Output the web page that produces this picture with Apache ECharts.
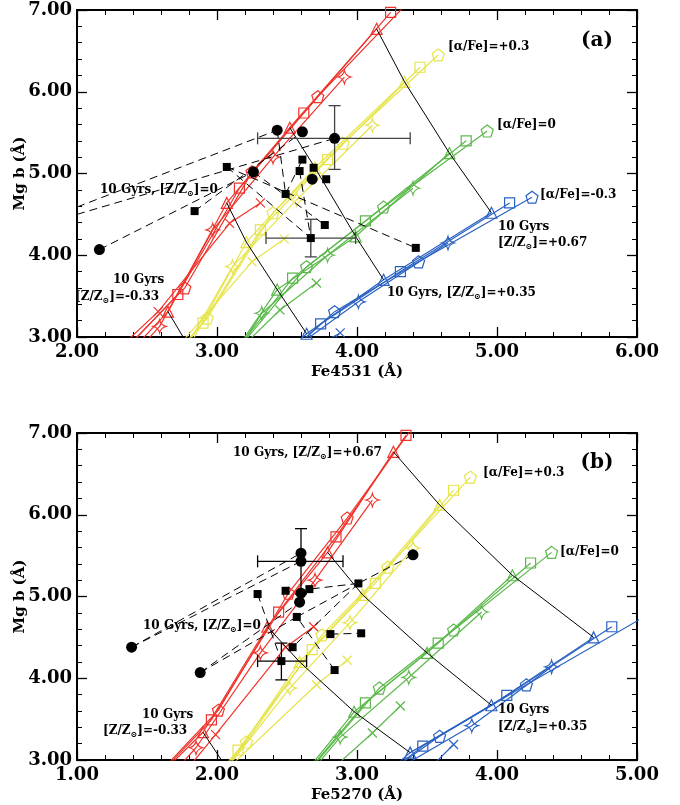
<!DOCTYPE html>
<html><head><meta charset="utf-8">
<script src="https://cdn.jsdelivr.net/npm/echarts@6/dist/echarts.min.js"></script>
<style>html,body{margin:0;padding:0;background:#fff}#c{width:680px;height:805px}</style>
</head><body><div id="c"></div>
<script>
// ---------- axes ----------
const xRangeA = [2, 6];
const xRangeB = [1, 5];
const yRange = [3, 7];

// ---------- model tracks (one track per age; points at increasing [Z/Z⊙]) ----------
// order of tracks in each colour: [triangle (10 Gyr), pentagon, square, star, cross]
// Panel (a): Fe4531 vs Mg b
const aRed = [
  [[2.15,2.40],[2.65,3.31],[3.07,4.64],[3.52,5.56],[4.14,6.77]],
  [[2.20,2.60],[2.77,3.60],[3.25,5.02],[3.72,5.94],[4.38,7.12]],
  [[2.18,2.55],[2.72,3.52],[3.16,4.82],[3.62,5.74],[4.24,6.97]],
  [[2.15,2.30],[2.59,3.13],[2.97,4.31],[3.40,5.20],[3.91,6.18]],
  [[2.20,2.70],[2.58,3.31],[3.09,4.39],[3.31,4.64]]
];
const aYellow = [
  [[2.80,2.88],[3.21,4.16],[3.70,5.07],[4.34,6.12]],
  [[2.45,2.30],[2.93,3.23],[3.40,4.52],[3.90,5.37],[4.58,6.45]],
  [[2.42,2.25],[2.90,3.17],[3.31,4.31],[3.79,5.17],[4.45,6.30]],
  [[2.72,2.70],[3.11,3.86],[3.57,4.68],[4.11,5.59]],
  [[2.72,2.88],[3.25,3.92],[3.48,4.20]]
];
const aGreen = [
  [[3.00,2.50],[3.43,3.58],[3.99,4.23],[4.66,5.25]],
  [[3.10,2.75],[3.64,3.86],[4.19,4.59],[4.93,5.52]],
  [[3.05,2.65],[3.54,3.72],[4.06,4.42],[4.78,5.40]],
  [[2.95,2.30],[3.32,3.29],[3.79,4.00],[4.40,4.82]],
  [[2.95,2.50],[3.45,3.33],[3.71,3.66]]
];
const aBlue = [
  [[3.25,2.40],[3.64,3.04],[4.19,3.70],[4.96,4.52]],
  [[3.45,2.70],[3.84,3.31],[4.44,3.92],[5.25,4.71]],
  [[3.35,2.55],[3.74,3.16],[4.31,3.80],[5.09,4.64]],
  [[3.20,2.30],[3.50,2.80],[4.01,3.43],[4.65,4.15]],
  [[3.30,2.40],[3.62,2.80],[3.88,3.05]]
];
// 10 Gyr iso-metallicity lines (a)
const aIsoP067 = [[4.14,6.77],[4.34,6.12],[4.66,5.25],[4.96,4.52]];
const aIsoP035 = [[3.52,5.56],[3.70,5.07],[3.99,4.23],[4.19,3.70]];
const aIsoZero = [[3.07,4.64],[3.21,4.16],[3.43,3.58],[3.64,3.04]];
const aIsoM033 = [[2.65,3.31],[2.80,2.88]];
// observed data (a)
const aCircles = [[3.43,5.53],[3.61,5.51],[3.84,5.43],[3.26,5.02],[3.68,4.93],[2.16,4.07]];
const aSquares = [[3.07,5.08],[2.84,4.54],[3.61,5.17],[3.59,5.03],[3.78,4.93],[3.49,4.75],[3.69,5.07],[3.77,4.37],[3.67,4.21],[4.42,4.09]];
// error bars: x, y, xlow, xhigh, ylow, yhigh
const aErrors = [[3.84,5.43,3.29,4.38,5.05,5.83],[3.67,4.21,3.35,3.99,3.98,4.44]];
// dashed links: x1, y1, x2, y2
const aLinks = [
  [2.00,4.59,3.43,5.53],[2.00,4.50,3.84,5.43],[2.16,4.07,3.26,5.02],[2.84,4.54,3.61,5.51],
  [3.07,5.08,4.42,4.09],[3.07,5.08,3.67,4.21],[3.26,5.02,3.77,4.37],[3.49,4.75,3.61,5.17],
  [3.59,5.03,3.67,4.21],[3.43,5.53,3.49,4.75]
];

// Panel (b): Fe5270 vs Mg b
const bRed = [
  [[1.35,2.40],[1.90,3.34],[2.36,4.63],[2.79,5.54],[3.26,6.77]],
  [[1.40,2.50],[2.01,3.61],[2.51,5.04],[2.93,5.96],[3.42,7.12]],
  [[1.38,2.45],[1.96,3.49],[2.44,4.81],[2.85,5.73],[3.35,6.97]],
  [[1.40,2.30],[1.85,3.15],[2.31,4.31],[2.70,5.20],[3.11,6.18]],
  [[1.60,2.50],[1.99,3.31],[2.49,4.38],[2.69,4.63]]
];
const bYellow = [
  [[2.07,2.90],[2.59,4.20],[3.04,5.02],[3.59,6.12]],
  [[1.75,2.30],[2.21,3.22],[2.75,4.53],[3.22,5.36],[3.81,6.46]],
  [[1.72,2.25],[2.15,3.12],[2.68,4.35],[3.13,5.16],[3.69,6.30]],
  [[1.98,2.70],[2.52,3.88],[2.95,4.68],[3.40,5.59]],
  [[2.05,2.85],[2.71,3.92],[2.93,4.22]]
];
const bGreen = [
  [[2.42,2.40],[2.98,3.59],[3.50,4.31],[4.11,5.26]],
  [[2.60,2.75],[3.16,3.88],[3.69,4.59],[4.39,5.54]],
  [[2.52,2.60],[3.06,3.70],[3.58,4.43],[4.24,5.41]],
  [[2.40,2.30],[2.88,3.28],[3.37,4.01],[3.89,4.81]],
  [[2.70,2.70],[3.11,3.33],[3.31,3.66]]
];
const bBlue = [
  [[2.90,2.40],[3.38,3.09],[3.96,3.67],[4.69,4.50]],
  [[3.10,2.70],[3.59,3.29],[4.21,3.92],[5.02,4.72]],
  [[3.00,2.55],[3.47,3.17],[4.07,3.79],[4.82,4.63]],
  [[2.80,2.30],[3.25,2.85],[3.82,3.42],[4.39,4.14]],
  [[3.20,2.60],[3.45,2.78],[3.69,3.19]]
];
const bIsoP067 = [[3.26,6.77],[3.59,6.12],[4.11,5.26],[4.69,4.50]];
const bIsoP035 = [[2.79,5.54],[3.04,5.02],[3.50,4.31],[3.96,3.67]];
const bIsoZero = [[2.36,4.63],[2.59,4.20],[2.98,3.59],[3.38,3.09]];
const bIsoM033 = [[1.90,3.34],[2.07,2.90]];
const bCircles = [[2.60,5.53],[2.60,5.43],[2.60,5.04],[2.59,4.93],[3.40,5.51],[1.39,4.38],[1.88,4.07]];
const bSquares = [[2.29,5.03],[2.57,4.75],[2.54,4.38],[2.46,4.21],[3.01,5.16],[2.81,4.54],[3.03,4.55],[2.84,4.10],[2.49,5.07],[2.66,5.09]];
const bErrors = [[2.60,5.43,2.29,2.90,5.03,5.83],[2.46,4.21,2.29,2.64,3.98,4.43]];
const bLinks = [
  [1.39,4.38,2.60,5.53],[1.39,4.38,2.60,5.43],[1.88,4.07,2.59,4.93],[1.88,4.07,2.57,4.75],
  [2.29,5.03,2.46,4.21],[3.40,5.51,3.01,5.16],[3.01,5.16,2.66,5.09],[3.01,5.16,2.54,4.38],
  [2.81,4.54,3.03,4.55],[2.84,4.10,2.57,4.75],[2.57,4.75,3.01,5.16]
];

// ---------- styling ----------
const COL = {red:'#f0342c', yellow:'#e6e44a', green:'#5bb84a', blue:'#2a62c2'};
const PENT = 'path://M0,-10L9.51,-3.09L5.88,8.09L-5.88,8.09L-9.51,-3.09Z';
const STAR = 'path://M0,-10Q2,-2 10,0Q2,2 0,10Q-2,2 -10,0Q-2,-2 0,-10Z';
const CROSS = 'path://M-10,-10L10,10M10,-10L-10,10';
const AGE_SYM = ['triangle', PENT, 'rect', STAR, CROSS];
const AGE_SIZE = [11, 12, 10, 13, 9];
const FONT = 'DejaVu Serif';

function tracks(list, color, xi, yi) {
  return list.map((pts, k) => ({
    type: 'line', xAxisIndex: xi, yAxisIndex: yi, data: pts,
    symbol: AGE_SYM[k], symbolSize: AGE_SIZE[k], showAllSymbol: true, clip: true,
    lineStyle: {color: color, width: 1.2},
    itemStyle: {color: 'rgba(255,255,255,0)', borderColor: color, borderWidth: 1.2},
    silent: true, z: 3
  }));
}
function iso(pts, xi, yi) {
  return {type:'line', xAxisIndex:xi, yAxisIndex:yi, data:pts, symbol:'none', clip:true,
    lineStyle:{color:'#000', width:1}, silent:true, z:4};
}
function points(pts, sym, size, xi, yi) {
  return {type:'scatter', xAxisIndex:xi, yAxisIndex:yi, data:pts, symbol:sym, symbolSize:size,
    itemStyle:{color:'#000', opacity:1}, silent:true, z:6};
}
function errors(rows, xi, yi, col) {
  return {type:'custom', xAxisIndex:xi, yAxisIndex:yi, data:rows, clip:true, silent:true, z:5,
    encode:{x:[0,2,3], y:[1,4,5]},
    renderItem: function(params, api) {
      const x = api.value(0), y = api.value(1);
      const L = api.coord([api.value(2), y]), R = api.coord([api.value(3), y]);
      const B = api.coord([x, api.value(4)]), T = api.coord([x, api.value(5)]);
      const c = 6, st = {stroke: col, lineWidth: 1.3};
      const seg = (x1,y1,x2,y2) => ({type:'line', shape:{x1,y1,x2,y2}, style:st});
      return {type:'group', children:[
        seg(L[0],L[1],R[0],R[1]), seg(L[0],L[1]-c,L[0],L[1]+c), seg(R[0],R[1]-c,R[0],R[1]+c),
        seg(B[0],B[1],T[0],T[1]), seg(B[0]-c,B[1],B[0]+c,B[1]), seg(T[0]-c,T[1],T[0]+c,T[1])
      ]};
    }};
}
function links(rows, xi, yi) {
  return {type:'custom', xAxisIndex:xi, yAxisIndex:yi, data:rows, clip:true, silent:true, z:5,
    encode:{x:[0,2], y:[1,3]},
    renderItem: function(params, api) {
      const p = api.coord([api.value(0), api.value(1)]), q = api.coord([api.value(2), api.value(3)]);
      return {type:'line', shape:{x1:p[0],y1:p[1],x2:q[0],y2:q[1]},
        style:{stroke:'#000', lineWidth:1, lineDash:[8,5]}};
    }};
}

function xAx(grid, range, name, top) {
  return {type:'value', gridIndex:grid, min:range[0], max:range[1], interval:1,
    position: top ? 'top' : 'bottom',
    name: top ? '' : name, nameLocation:'middle', nameGap:28, nameMoveOverlap:false,
    nameTextStyle:{fontFamily:FONT, fontWeight:'bold', fontSize:15, color:'#000'},
    axisLine:{show:true, onZero:false, lineStyle:{color:'#000', width:2}},
    axisTick:{show:true, inside:true, length:10, lineStyle:{color:'#000', width:1.3}},
    minorTick:{show:true, splitNumber:5, length:5, lineStyle:{color:'#000', width:1}},
    axisLabel:{show:!top, margin:6, fontFamily:FONT, fontWeight:'bold', fontSize:18, color:'#000',
      formatter: v => v.toFixed(2)},
    splitLine:{show:false}};
}
function yAx(grid, right) {
  return {type:'value', gridIndex:grid, min:yRange[0], max:yRange[1], interval:1,
    position: right ? 'right' : 'left',
    name: right ? '' : 'Mg b (Å)', nameLocation:'middle', nameGap:49, nameRotate:90, nameMoveOverlap:false,
    nameTextStyle:{fontFamily:FONT, fontWeight:'bold', fontSize:15, color:'#000'},
    axisLine:{show:true, onZero:false, lineStyle:{color:'#000', width:2}},
    axisTick:{show:true, inside:true, length:10, lineStyle:{color:'#000', width:1.3}},
    minorTick:{show:true, splitNumber:5, length:5, lineStyle:{color:'#000', width:1}},
    axisLabel:{show:!right, margin:5, fontFamily:FONT, fontWeight:'bold', fontSize:18, color:'#000',
      formatter: v => v.toFixed(2)},
    splitLine:{show:false}};
}

function txt(x, y, text, size, align) {
  return {type:'text', x:x, y:y, silent:true, z:100,
    style:{text:text, fill:'#000', font:'bold ' + (size||12) + 'px "' + FONT + '"',
      align: align || 'left', verticalAlign:'middle', lineHeight:16,
      rich:{s:{fontSize:8, fontWeight:'bold', fontFamily:FONT, lineHeight:8, verticalAlign:'bottom', fill:'#000'}}}};
}
const SUN = '{s|⊙}';

const series = [].concat(
  tracks(aRed, COL.red, 0, 0), tracks(aYellow, COL.yellow, 0, 0),
  tracks(aGreen, COL.green, 0, 0), tracks(aBlue, COL.blue, 0, 0),
  [iso(aIsoP067,0,0), iso(aIsoP035,0,0), iso(aIsoZero,0,0), iso(aIsoM033,0,0)],
  [links(aLinks,0,0), errors(aErrors,0,0,'#444'),
   points(aCircles,'circle',11,0,0), points(aSquares,'rect',8,0,0)],
  tracks(bRed, COL.red, 2, 2), tracks(bYellow, COL.yellow, 2, 2),
  tracks(bGreen, COL.green, 2, 2), tracks(bBlue, COL.blue, 2, 2),
  [iso(bIsoP067,2,2), iso(bIsoP035,2,2), iso(bIsoZero,2,2), iso(bIsoM033,2,2)],
  [links(bLinks,2,2), errors(bErrors,2,2,'#000'),
   points(bCircles,'circle',11,2,2), points(bSquares,'rect',8,2,2)]
);

const option = {
  animation: false,
  backgroundColor: '#fff',
  grid: [
    {left:77, top:10, width:560, height:327, containLabel:false, outerBoundsMode:'none'},
    {left:77, top:433, width:560, height:327, containLabel:false, outerBoundsMode:'none'}
  ],
  xAxis: [xAx(0, xRangeA, 'Fe4531 (Å)', false), xAx(0, xRangeA, '', true),
          xAx(1, xRangeB, 'Fe5270 (Å)', false), xAx(1, xRangeB, '', true)],
  yAxis: [yAx(0,false), yAx(0,true), yAx(1,false), yAx(1,true)],
  series: series,
  graphic: [
    txt(597, 41, '(a)', 20, 'center'),
    txt(448, 47, '[α/Fe]=+0.3'),
    txt(497, 125, '[α/Fe]=0'),
    txt(540, 195, '[α/Fe]=-0.3'),
    txt(498, 227, '10 Gyrs'),
    txt(498, 243, '[Z/Z' + SUN + ']=+0.67'),
    txt(387, 293, '10 Gyrs, [Z/Z' + SUN + ']=+0.35'),
    txt(100, 190, '10 Gyrs, [Z/Z' + SUN + ']=0'),
    txt(113, 280, '10 Gyrs'),
    txt(75, 297, '[Z/Z' + SUN + ']=-0.33'),
    txt(597, 463, '(b)', 20, 'center'),
    txt(483, 473, '[α/Fe]=+0.3'),
    txt(560, 552, '[α/Fe]=0'),
    txt(233, 453, '10 Gyrs, [Z/Z' + SUN + ']=+0.67'),
    txt(143, 626, '10 Gyrs, [Z/Z' + SUN + ']=0'),
    txt(142, 715, '10 Gyrs'),
    txt(103, 731, '[Z/Z' + SUN + ']=-0.33'),
    txt(498, 710, '10 Gyrs'),
    txt(498, 727, '[Z/Z' + SUN + ']=+0.35')
  ]
};
const chart = echarts.init(document.getElementById('c'), null, {renderer:'canvas'});
chart.setOption(option);
</script>
</body></html>
